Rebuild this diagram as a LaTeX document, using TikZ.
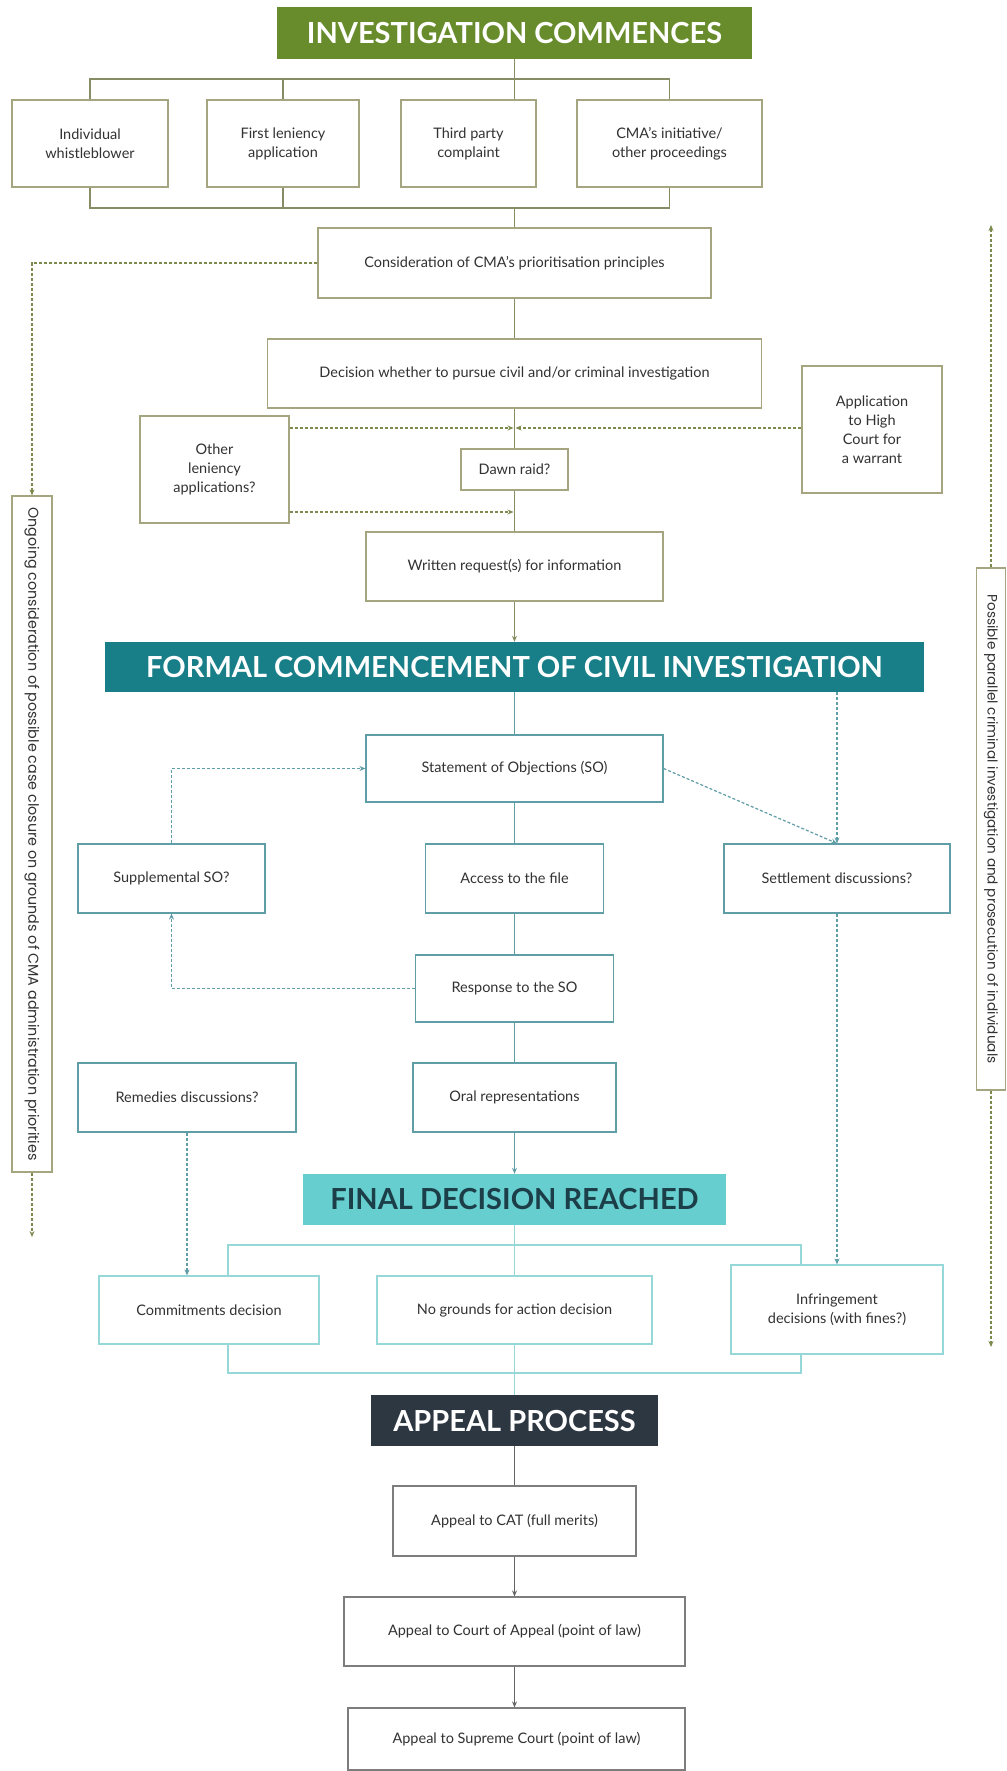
\documentclass[tikz,border=0pt]{standalone}
\usepackage{fontspec}
\setmainfont{Lato}
\newfontfamily\sidefont{Poppins}
\usetikzlibrary{shapes,arrows,arrows.meta}
\definecolor{InvGreen}{RGB}{104,140,44}
\definecolor{OliveBox}{RGB}{165,165,128}
\definecolor{OliveLine}{RGB}{135,140,100}
\definecolor{OliveDash}{RGB}{125,138,78}
\definecolor{FormalTeal}{RGB}{24,126,135}
\definecolor{TealBox}{RGB}{95,158,166}
\definecolor{FinFill}{RGB}{102,206,206}
\definecolor{FinText}{RGB}{28,62,72}
\definecolor{FinBox}{RGB}{150,216,216}
\definecolor{AppFill}{RGB}{45,55,65}
\definecolor{AppBox}{RGB}{125,125,125}
\definecolor{BoxText}{RGB}{50,50,50}
\tikzstyle{box} = [rectangle, draw=OliveBox, line width=1.2pt, text=BoxText, align=center, inner sep=0pt, font=\fontsize{14.5}{19}\selectfont]
\tikzstyle{tealbox} = [box, draw=TealBox]
\tikzstyle{finbox} = [box, draw=FinBox]
\tikzstyle{appbox} = [box, draw=AppBox]
\tikzstyle{sidebox} = [box, rotate=-90]
\tikzstyle{banner} = [rectangle, inner sep=0pt, text=white, font=\fontsize{29}{34}\selectfont\bfseries]
\tikzstyle{arr} = [-{Stealth[length=6pt,width=5pt]}]
\tikzstyle{oline} = [draw=OliveLine, line width=1.2pt]
\tikzstyle{odash} = [draw=OliveDash, line width=1.2pt, dash pattern=on 3pt off 2pt, arr]
\tikzstyle{tline} = [draw=TealBox, line width=1.2pt]
\tikzstyle{tdash} = [tline, dash pattern=on 3pt off 2pt, arr]
\tikzstyle{fline} = [draw=FinBox, line width=1.2pt]
\tikzstyle{aline} = [draw=AppBox!80!black, line width=1.2pt]

\begin{document}
\begin{tikzpicture}[x=1pt,y=-1pt]
    \fill[white] (0,0) rectangle (1006,1771);
    \useasboundingbox (0,0) rectangle (1006,1771);

    \node[banner, fill=InvGreen, minimum width=475pt, minimum height=52pt] (title) at (514.5,33) {INVESTIGATION COMMENCES};
    \node[box, minimum width=156pt, minimum height=87pt] (whistle) at (90,143.5) {Individual\\whistleblower};
    \node[box, minimum width=152pt, minimum height=87pt] (firstlen) at (283,143.5) {First leniency\\application};
    \node[box, minimum width=135pt, minimum height=87pt] (thirdpty) at (468.5,143.5) {Third party\\complaint};
    \node[box, minimum width=185pt, minimum height=87pt] (cmainit) at (669.5,143.5) {CMA’s initiative/\\other proceedings};
    \coordinate (topbar) at (0,79);
    \coordinate (botbar) at (0,208);
    \draw[oline] (whistle.north) |- (topbar -| cmainit.north) -- (cmainit.north);
    \draw[oline] (firstlen.north) -- (firstlen.north |- topbar);
    \draw[oline] (title.south) -- (title.south |- thirdpty.north);
    \draw[oline] (whistle.south) |- (botbar -| cmainit.south) -- (cmainit.south);
    \draw[oline] (firstlen.south) -- (firstlen.south |- botbar);

    \node[box, minimum width=393pt, minimum height=70pt] (consider) at (514.5,263) {Consideration of CMA’s prioritisation principles};
    \node[box, minimum width=494pt, minimum height=69pt] (decision) at (514.5,373.5) {Decision whether to pursue civil and/or criminal investigation};
    \node[box, minimum width=149pt, minimum height=107pt] (othlen) at (214.5,469.5) {Other\\leniency\\applications?};
    \node[box, minimum width=107pt, minimum height=41pt] (dawn) at (514.5,469.5) {Dawn raid?};
    \node[box, minimum width=140pt, minimum height=127pt] (highct) at (872,429.5) {Application\\to High\\Court for\\a warrant};
    \node[box, minimum width=297pt, minimum height=69pt] (written) at (514.5,566.5) {Written request(s) for information};
    \draw[oline] (botbar -| consider.north) -- (consider.north);
    \draw[oline] (consider.south) -- (decision.north);
    \draw[oline] (decision.south) -- (dawn.north);
    \draw[oline] (dawn.south) -- (written.north);
    \coordinate (raidin) at (514.5,428);
    \coordinate (rfiin) at (514.5,512);
    \draw[odash] (othlen.east |- raidin) -- ([xshift=-1pt]raidin);
    \draw[odash] (highct.west |- raidin) -- ([xshift=1pt]raidin);
    \draw[odash] (othlen.east |- rfiin) -- ([xshift=-1pt]rfiin);

    \node[sidebox, font=\sidefont\fontsize{14.3}{17}\selectfont, minimum width=676pt, minimum height=40pt] (ongoing) at (32,834) {Ongoing consideration of possible case closure on grounds of CMA administration priorities};
    \node[sidebox, font=\sidefont\fontsize{13.6}{16}\selectfont, minimum width=522pt, minimum height=29pt] (parallel) at (991,829) {Possible parallel criminal investigation and prosecution of individuals};
    \coordinate (ongend) at (32,1237);
    \coordinate (partop) at (991,225);
    \coordinate (parbot) at (991,1347);
    \draw[odash] (consider.west) -| (ongoing.west);
    \draw[odash] (ongoing.east) -- (ongend);
    \draw[odash] (parallel.west) -- (partop);
    \draw[odash] (parallel.east) -- (parbot);

    \node[banner, fill=FormalTeal, minimum width=819pt, minimum height=50pt] (formal) at (514.5,667) {FORMAL COMMENCEMENT OF CIVIL INVESTIGATION};
    \draw[oline, arr] (written.south) -- (formal.north);
    \node[tealbox, minimum width=297pt, minimum height=67pt] (soo) at (514.5,768.5) {Statement of Objections (SO)};
    \node[tealbox, minimum width=187pt, minimum height=69pt] (supp) at (171.5,878.5) {Supplemental SO?};
    \node[tealbox, minimum width=178pt, minimum height=69pt] (access) at (514.5,878.5) {Access to the file};
    \node[tealbox, minimum width=226pt, minimum height=69pt] (settle) at (837,878.5) {Settlement discussions?};
    \node[tealbox, minimum width=198pt, minimum height=67pt] (response) at (514.5,988.5) {Response to the SO};
    \node[tealbox, minimum width=218pt, minimum height=69pt] (remedy) at (187,1097.5) {Remedies discussions?};
    \node[tealbox, minimum width=203pt, minimum height=69pt] (oral) at (514.5,1097.5) {Oral representations};
    \draw[tline] (formal.south) -- (soo.north);
    \draw[tline] (soo.south) -- (access.north);
    \draw[tline] (access.south) -- (response.north);
    \draw[tline] (response.south) -- (oral.north);
    \draw[tdash] (formal.south -| settle.north) -- (settle.north);
    \draw[tdash] (soo.east) -- (settle.north);
    \draw[tdash] (supp.north) |- (soo.west);
    \draw[tdash] (response.west) -| (supp.south);

    \node[banner, fill=FinFill, text=FinText, minimum width=423pt, minimum height=51pt] (final) at (514.5,1199.5) {FINAL DECISION REACHED};
    \draw[tline, arr] (oral.south) -- (final.north);
    \node[finbox, minimum width=220pt, minimum height=68pt] (commit) at (209,1310) {Commitments decision};
    \node[finbox, minimum width=275pt, minimum height=68pt] (nogrnd) at (514.5,1310) {No grounds for action decision};
    \node[finbox, minimum width=212pt, minimum height=89pt] (infr) at (837,1309.5) {Infringement\\decisions (with fines?)};
    \draw[tdash] (settle.south) -- (infr.north);
    \draw[tdash] (remedy.south) -- (remedy.south |- commit.north);
    \coordinate (fintl) at (228,1245);
    \coordinate (fintr) at (801,1245);
    \coordinate (finbl) at (228,1373);
    \coordinate (finbr) at (801,1373);
    \draw[fline] (fintl |- commit.north) -- (fintl) -- (fintr) -- (fintr |- infr.north);
    \draw[fline] (finbl |- commit.south) -- (finbl) -- (finbr) -- (finbr |- infr.south);
    \draw[fline] (final.south) -- (nogrnd.north);

    \node[banner, fill=AppFill, minimum width=287pt, minimum height=51pt] (appeal) at (514.5,1420.5) {APPEAL PROCESS};
    \draw[fline] (nogrnd.south) -- (appeal.north);
    \node[appbox, minimum width=243pt, minimum height=70pt] (cat) at (514.5,1521) {Appeal to CAT (full merits)};
    \node[appbox, minimum width=341pt, minimum height=69pt] (coa) at (514.5,1631.5) {Appeal to Court of Appeal (point of law)};
    \node[appbox, minimum width=337pt, minimum height=62pt] (supct) at (516.5,1739) {Appeal to Supreme Court (point of law)};
    \draw[aline] (appeal.south) -- (cat.north);
    \draw[aline, arr] (cat.south) -- (coa.north);
    \draw[aline, arr] (coa.south) -- (coa.south |- supct.north);
\end{tikzpicture}
\end{document}
